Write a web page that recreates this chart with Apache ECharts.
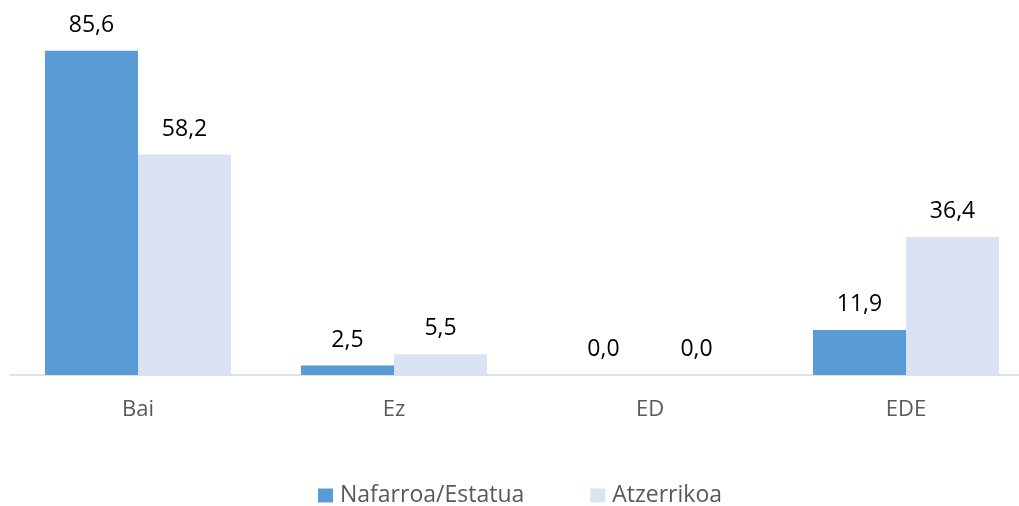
<!DOCTYPE html>
<html><head><meta charset="utf-8">
<script src="https://cdn.jsdelivr.net/npm/echarts@6/dist/echarts.min.js"></script>
<style>html,body{margin:0;padding:0;background:#fff;overflow:hidden}#c{width:1040px;height:506px}</style>
</head><body><div id="c"></div>
<script>
const categories = ["Bai", "Ez", "ED", "EDE"];
const seriesNames = ["Nafarroa/Estatua", "Atzerrikoa"];
const nafarroa = [85.6, 2.5, 0.0, 11.9];
const atzerrikoa = [58.2, 5.5, 0.0, 36.4];
const colors = ["#5B9BD5", "#DAE3F3"];

const fmt = p => p.value.toFixed(1).replace('.', ',');
const font = "'Open Sans', 'Noto Sans', sans-serif";
const chart = echarts.init(document.getElementById('c'));
chart.setOption({
  animation: false,
  grid: { left: 10, top: 34, right: 6, height: 341 },
  legend: {
    top: 479, left: 313, itemWidth: 15, itemHeight: 14, itemGap: 66,
    icon: 'rect',
    textStyle: { color: '#595959', fontSize: 23, fontFamily: font, padding: [0, 0, 0, 2] },
    data: seriesNames
  },
  xAxis: {
    type: 'category', data: categories,
    axisLine: { lineStyle: { color: '#D9D9D9', width: 1.5 } },
    axisTick: { show: false },
    axisLabel: { color: '#595959', fontSize: 22, fontFamily: font, margin: 24 }
  },
  yAxis: { type: 'value', min: 0, max: 90, show: false, splitLine: { show: false } },
  series: [
    { name: seriesNames[0], type: 'bar', data: nafarroa, barGap: '0%', barCategoryGap: '27.3%',
      itemStyle: { color: colors[0] },
      label: { show: true, position: 'top', distance: 14, formatter: fmt, color: '#000', fontSize: 23, fontFamily: font } },
    { name: seriesNames[1], type: 'bar', data: atzerrikoa, barGap: '0%', barCategoryGap: '27.3%',
      itemStyle: { color: colors[1] },
      label: { show: true, position: 'top', distance: 14, formatter: fmt, color: '#000', fontSize: 23, fontFamily: font } }
  ]
});
</script></body></html>
